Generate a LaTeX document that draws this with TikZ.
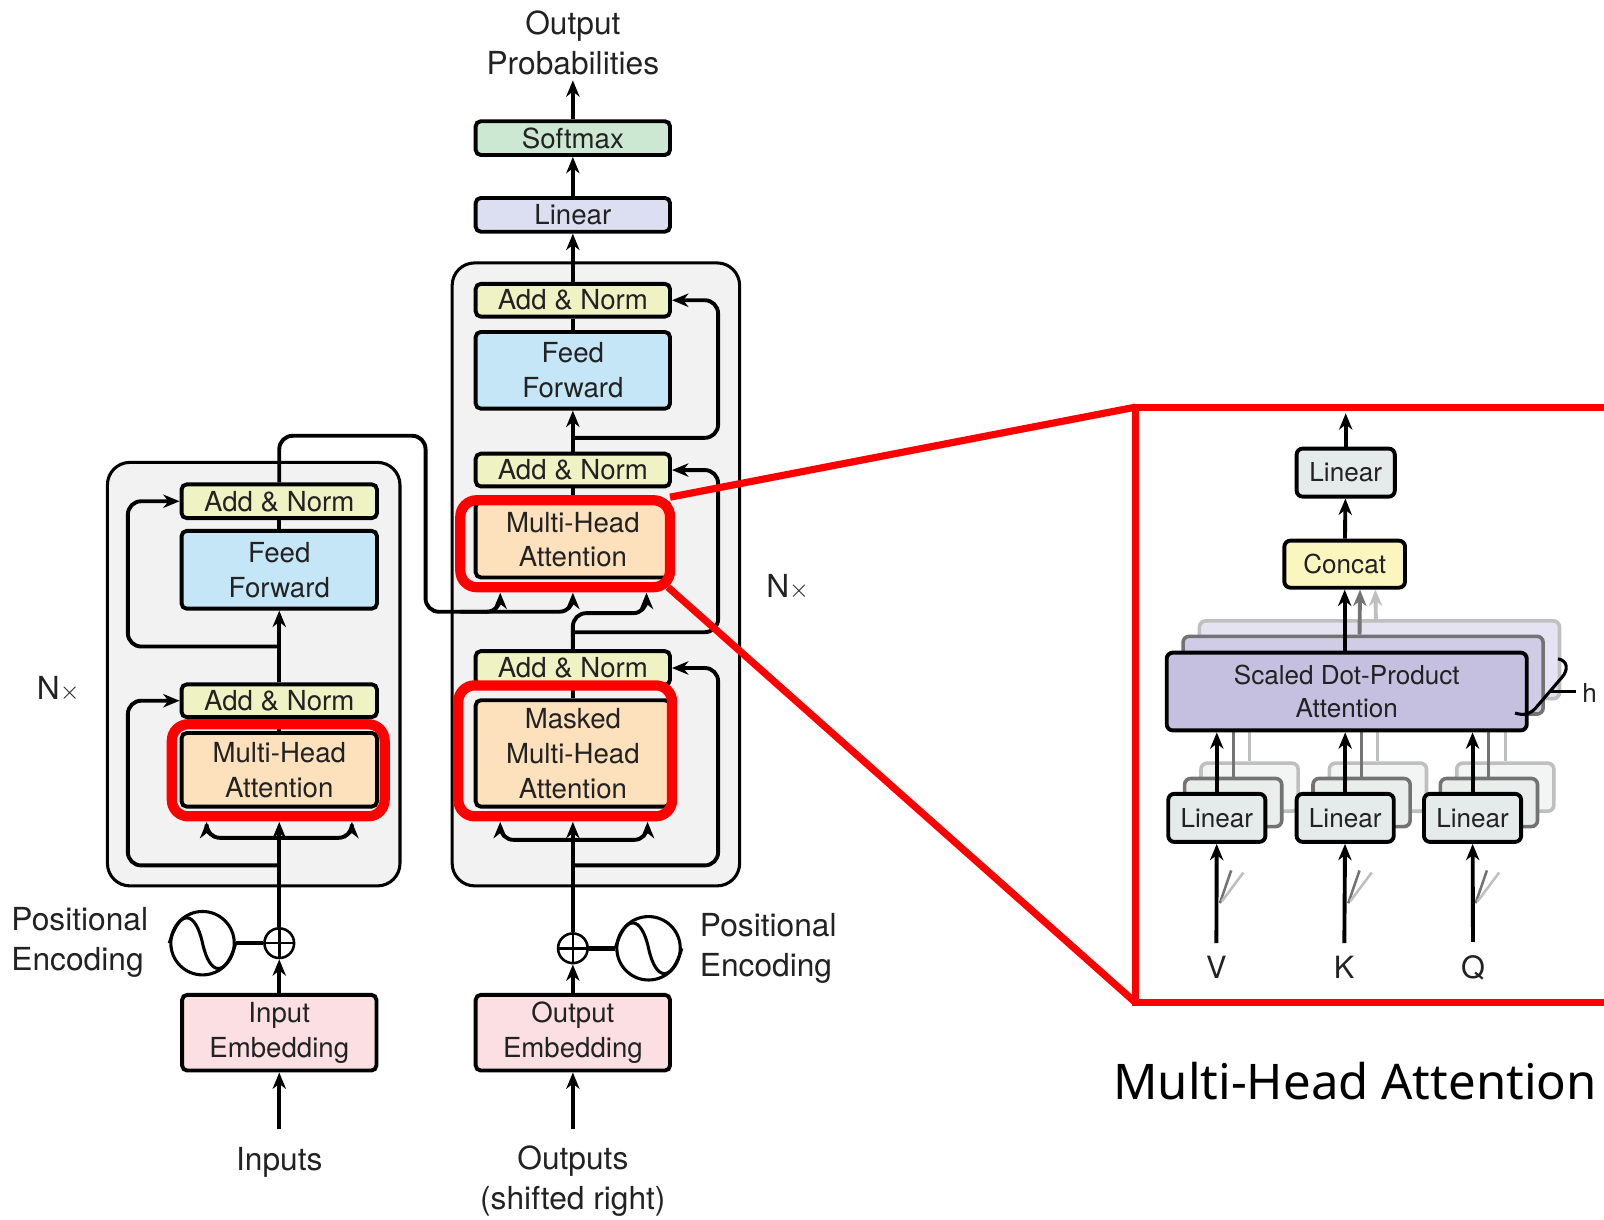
\documentclass[tikz,border=0pt]{standalone}
\usepackage{fontspec}
\setmainfont{TeX Gyre Heros}
\newfontfamily\mhfont{Noto Sans}
\usetikzlibrary{arrows.meta,calc}
\definecolor{txtC}{HTML}{222222}
\definecolor{anC}{HTML}{EFF3C3}
\definecolor{ffC}{HTML}{C4E6F6}
\definecolor{mhaC}{HTML}{FDE0BC}
\definecolor{smC}{HTML}{CCE8D2}
\definecolor{linC}{HTML}{DCDFF2}
\definecolor{embC}{HTML}{FBDFE2}
\definecolor{bgC}{HTML}{F2F2F2}
\definecolor{rlinC}{HTML}{E5EBEA}
\definecolor{concC}{HTML}{FBF6C0}
\definecolor{sdpaC}{HTML}{C5BFE0}
\newcommand{\boxfnt}{\fontsize{27}{34}\selectfont}
\newcommand{\lblfnt}{\fontsize{31}{39}\selectfont}
\newcommand{\panfnt}{\fontsize{25.5}{32}\selectfont}
\tikzset{
  box/.style={draw=black, line width=3.8pt, rounded corners=5pt, inner sep=0pt, align=center, font=\boxfnt, text=txtC},
  pbox/.style={draw=black, line width=3.8pt, rounded corners=6pt, inner sep=0pt, align=center, font=\panfnt, text=txtC},
  lbl/.style={font=\lblfnt, text=txtC, align=center, inner sep=3pt},
  conn/.style={line width=3.8pt},
  bent/.style={rounded corners=13pt},
  arr/.style={conn, -{Stealth[length=16pt,width=13pt,inset=5pt,sharp]}},
  redbox/.style={draw=red, line width=10pt, rounded corners=16pt},
  bigbox/.style={draw=black, line width=3pt, fill=bgC, rounded corners=22pt},
  backA/.style={draw=black!55, line width=3.5pt, rounded corners=6pt, inner sep=0pt},
  backB/.style={draw=black!25, line width=3.5pt, rounded corners=6pt, inner sep=0pt},
}
\begin{document}
\begin{tikzpicture}[x=1pt,y=-1pt]
\useasboundingbox (0,0) rectangle (1568,1192);

% big boxes
\draw[bigbox] (105,452) rectangle (391,866);
\draw[bigbox] (442,257) rectangle (723,866);

% ---------- encoder nodes ----------
\node[box, fill=anC, minimum width=191pt, minimum height=33pt] (eAN2) at (273,490) {Add \& Norm};
\node[box, fill=ffC, minimum width=191pt, minimum height=76pt] (eFF) at (273,557) {Feed\\Forward};
\node[box, fill=anC, minimum width=191pt, minimum height=32pt] (eAN1) at (273,685) {Add \& Norm};
\node[box, fill=mhaC, minimum width=191pt, minimum height=72pt] (eMHA) at (273,752.5) {Multi-Head\\Attention};
\node[box, fill=embC, minimum width=190pt, minimum height=74pt] (eIE) at (273,1009.5) {Input\\Embedding};
\node[circle, draw, line width=3pt, minimum size=62pt, inner sep=0pt] (eSine) at (198,922) {};
\node[circle, draw, line width=2.5pt, minimum size=29pt, inner sep=0pt] (ePlus) at (273,922) {};
\node[lbl, align=left, anchor=west] (ePos) at (8,921) {Positional\\Encoding};
\node[lbl] (eNx) at (57,674) {N$\times$};
\node[lbl] (inputs) at (273,1136) {Inputs};

% ---------- decoder nodes ----------
\node[box, fill=smC, minimum width=190pt, minimum height=33pt] (dSoft) at (560,135) {Softmax};
\node[box, fill=linC, minimum width=190pt, minimum height=33pt] (dLin) at (560,210) {Linear};
\node[box, fill=anC, minimum width=190pt, minimum height=32pt] (dAN3) at (560,293.5) {Add \& Norm};
\node[box, fill=ffC, minimum width=190pt, minimum height=75pt] (dFF) at (560,362) {Feed\\Forward};
\node[box, fill=anC, minimum width=190pt, minimum height=32pt] (dAN2) at (560,459.5) {Add \& Norm};
\node[box, fill=mhaC, minimum width=190pt, minimum height=74pt] (dMHA) at (560,527.5) {Multi-Head\\Attention};
\node[box, fill=anC, minimum width=190pt, minimum height=33pt] (dAN1) at (560,653) {Add \& Norm};
\node[box, fill=mhaC, minimum width=190pt, minimum height=104pt] (dMMHA) at (560,736.5) {Masked\\Multi-Head\\Attention};
\node[box, fill=embC, minimum width=190pt, minimum height=74pt] (dOE) at (560,1009.5) {Output\\Embedding};
\node[circle, draw, line width=2.5pt, minimum size=29pt, inner sep=0pt] (dPlus) at (560,927) {};
\node[circle, draw, line width=3pt, minimum size=62pt, inner sep=0pt] (dSine) at (634,927) {};
\node[lbl, align=left, anchor=west] (dPos) at (681,927) {Positional\\Encoding};
\node[lbl] (dNx) at (770,574) {N$\times$};
\node[lbl] (outprob) at (560,42) {Output\\Probabilities};
\node[lbl] (outputs) at (560,1155) {Outputs\\(shifted right)};

% sine waves and plus signs
\foreach \s in {eSine,dSine}{
  \draw[line width=3pt] (\s.west) .. controls +(10,-34) and +(-7,-32) .. (\s.center) .. controls +(7,32) and +(-10,34) .. (\s.east);
}
\foreach \p in {ePlus,dPlus}{
  \draw[line width=2.5pt] (\p.north) -- (\p.south) (\p.west) -- (\p.east);
}
\draw[line width=4.5pt] (eSine) -- (ePlus);
\draw[line width=4.5pt] (dPlus) -- (dSine);

% ---------- encoder connectors ----------
\draw[arr, shorten <=14pt] (inputs) -- (eIE);
\draw[arr] (eIE) -- (ePlus);
\coordinate (eSplit) at (273,819);
\draw[arr, shorten >=13pt] (ePlus) -- (eMHA);
\draw[arr, bent, shorten >=13pt] (eSplit) -| ($(eMHA.south)+(-71,0)$);
\draw[arr, bent, shorten >=13pt] (eSplit) -| ($(eMHA.south)+(71,0)$);
\draw[conn] (eMHA) -- (eAN1);
\coordinate (eRes1) at (273,846);
\draw[arr, bent] (eRes1) -| (125,685) -- (eAN1.west);
\draw[arr] (eAN1) -- (eFF);
\coordinate (eRes2) at (273,632);
\draw[arr, bent] (eRes2) -| (125,490) -- (eAN2.west);
\draw[conn] (eFF) -- (eAN2);
% encoder output to decoder
\coordinate (eOut1) at (416,426);
\coordinate (eOut2) at (416,598);
\draw[arr, bent, shorten >=13pt] (eAN2.north) |- (eOut1) -- (eOut2) -| (dMHA.south);
\draw[arr, bent, shorten >=13pt] (450,598) -| ($(dMHA.south)+(-71,0)$);

% ---------- decoder connectors ----------
\draw[arr, shorten <=14pt] (outputs) -- (dOE);
\draw[arr] (dOE) -- (dPlus);
\coordinate (dSplit) at (560,821);
\draw[arr, shorten >=13pt] (dPlus) -- (dMMHA);
\draw[arr, bent, shorten >=13pt] (dSplit) -| ($(dMMHA.south)+(-71,0)$);
\draw[arr, bent, shorten >=13pt] (dSplit) -| ($(dMMHA.south)+(73,0)$);
\coordinate (dRes1) at (560,846);
\draw[arr, bent] (dRes1) -| (702,653) -- (dAN1.east);
\draw[conn] (dMMHA) -- (dAN1);
\draw[arr, bent, shorten >=13pt] (dAN1.north) |- ($(dMHA.south)+(72,33)$) -- ($(dMHA.south)+(72,0)$);
\coordinate (dRes2) at (560,618);
\draw[arr, bent] (dRes2) -| (702,459.5) -- (dAN2.east);
\draw[conn] (dMHA) -- (dAN2);
\draw[arr] (dAN2) -- (dFF);
\coordinate (dRes3) at (560,428);
\draw[arr, bent] (dRes3) -| (702,293.5) -- (dAN3.east);
\draw[conn] (dFF) -- (dAN3);
\draw[arr] (dAN3) -- (dLin);
\draw[arr] (dLin) -- (dSoft);
\draw[arr, shorten >=2pt] (dSoft) -- (outprob);

% ---------- red highlight ----------
\draw[redbox] (168,708) rectangle (376,798);
\draw[redbox] (450,489) rectangle (655,574);
\draw[redbox] (448,670) rectangle (657,798);
\draw[red, line width=7pt] (655,486) -- (1110,398);
\draw[red, line width=7pt] (653,574) -- (1110,980);
\draw[red, line width=7pt] (1600,398) -- (1110,398) -- (1110,980) -- (1600,980);

% ---------- multi-head attention panel ----------
% back layers of SDPA
\node[backB, fill=sdpaC!45, minimum width=352pt, minimum height=76pt] (sdpa3) at (1348.5,645) {};
\node[backA, fill=sdpaC!80, minimum width=352pt, minimum height=76pt] (sdpa2) at (1332.5,660) {};
% back layers of linears
\foreach \n/\x in {V/1189.5,K/1315,Q/1439.5}{
  \node[backB, fill=rlinC!50, minimum width=95pt, minimum height=47pt] (l3\n) at (\x+32,769.5) {};
  \node[backA, fill=rlinC!85, minimum width=95pt, minimum height=47pt] (l2\n) at (\x+16,784.5) {};
  \draw[line width=3pt, black!25] (l3\n.north) -- ++(0,-50);
  \draw[line width=3pt, black!55] (l2\n.north) -- ++(0,-50);
}
\node[pbox, fill=sdpaC, minimum width=352pt, minimum height=76pt] (sdpa) at (1316.5,676) {Scaled Dot-Product\\Attention};
\node[pbox, fill=rlinC, minimum width=95pt, minimum height=47pt] (rLV) at (1189.5,799.5) {Linear};
\node[pbox, fill=rlinC, minimum width=95pt, minimum height=47pt] (rLK) at (1315,799.5) {Linear};
\node[pbox, fill=rlinC, minimum width=95pt, minimum height=47pt] (rLQ) at (1439.5,799.5) {Linear};
\node[pbox, fill=concC, minimum width=118pt, minimum height=46pt] (rConc) at (1314.5,551.5) {Concat};
\node[pbox, fill=rlinC, minimum width=96pt, minimum height=47pt] (rLin) at (1315.5,462) {Linear};
\node[lbl, font=\fontsize{30}{36}\selectfont] (V) at (1189,946) {V};
\node[lbl, font=\fontsize{30}{36}\selectfont] (K) at (1314,946) {K};
\node[lbl, font=\fontsize{30}{36}\selectfont] (Q) at (1440,946) {Q};
\coordinate (rTop) at (1315.5,404);

\foreach \n/\m in {V/rLV,K/rLK,Q/rLQ}{
  \draw[line width=2.5pt, black!55] ($(\m.south)+(3,58)$) -- ($(\m.south)+(14,26)$);
  \draw[line width=2.5pt, black!25] ($(\m.south)+(5,56)$) -- ($(\m.south)+(26,28)$);
  \draw[arr, shorten <=10pt] (\n) -- (\m);
  \draw[arr] (\m) -- (\m |- sdpa.south);
}
\draw[arr, black!25] ($(sdpa3.north)+(-3.5,0)$) -- ($(rConc.south)+(30,0)$);
\draw[arr, black!55] ($(sdpa2.north)+(-3.5,0)$) -- ($(rConc.south)+(15,0)$);
\draw[arr] (sdpa.north -| rConc.south) -- (rConc.south);
\draw[arr] (rConc) -- (rLin);
\draw[arr] (rLin) -- (rTop);

% brace with h
\draw[line width=3pt] (1523,644) .. controls (1533,646) and (1533,655) .. (1527,662) -- (1503,690) .. controls (1497,698) and (1490,700) .. (1481,697);
\draw[line width=3pt] (1515,676) -- (1541,676);
\node[font=\panfnt, text=txtC, inner sep=1pt] (hlab) at (1554,677) {h};

% title
\node[font=\mhfont\fontsize{48}{56}\selectfont, anchor=west, inner sep=0pt] (mhtitle) at (1088,1057) {Multi-Head Attention};
\end{tikzpicture}
\end{document}
